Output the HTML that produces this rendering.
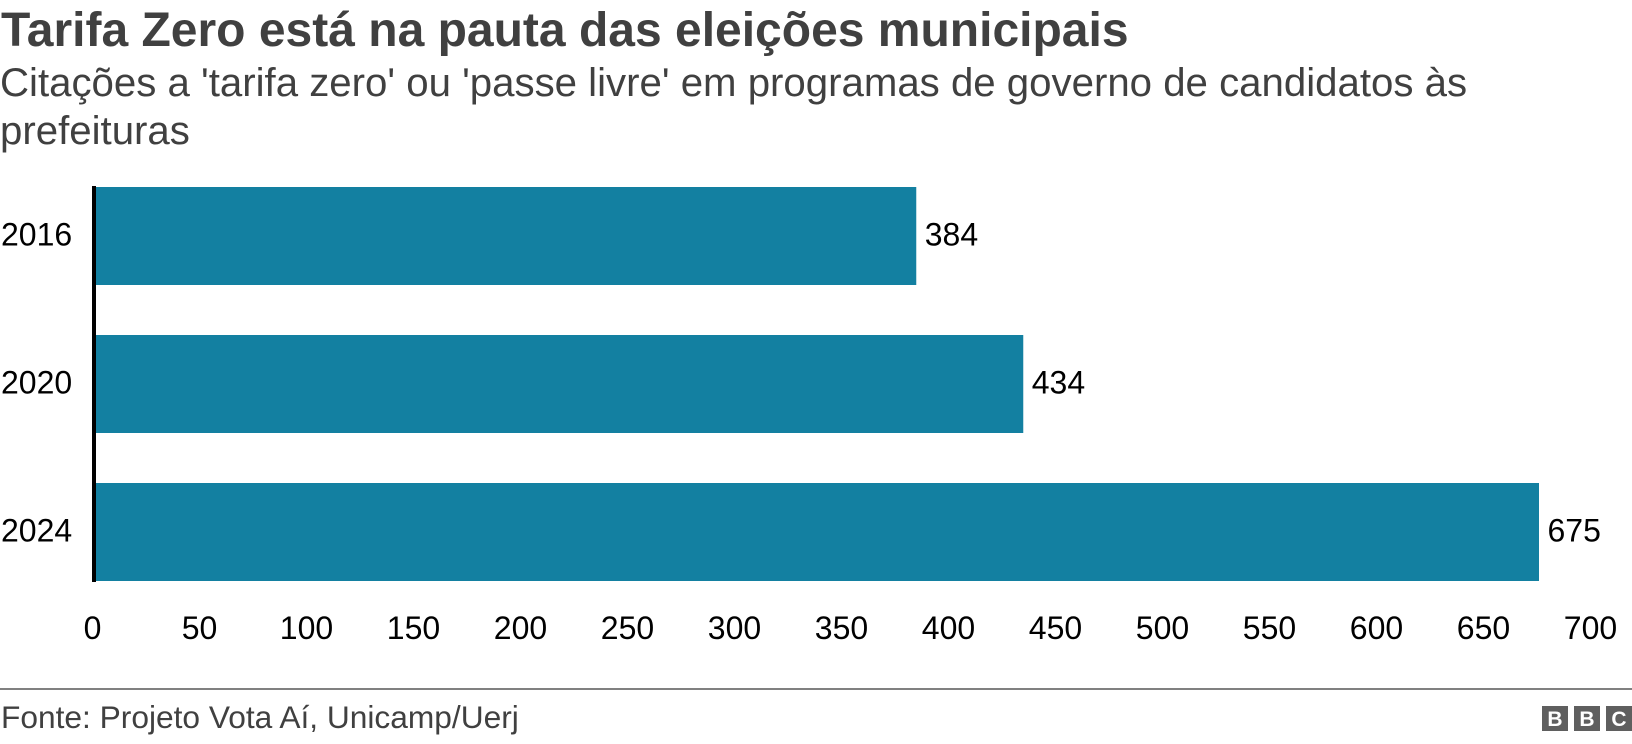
<!DOCTYPE html>
<html lang="pt">
<head>
<meta charset="utf-8">
<title>Tarifa Zero está na pauta das eleições municipais</title>
<style>
html,body{margin:0;padding:0;background:#fff;width:1632px;height:744px;overflow:hidden}
svg{display:block}
text{font-family:"Liberation Sans",sans-serif}
</style>
</head>
<body>
<svg id="chart" xmlns="http://www.w3.org/2000/svg" width="1632" height="744" viewBox="0 0 1632 744">
  <text x="1" y="46" font-size="48" font-weight="700" fill="#404040">Tarifa Zero está na pauta das eleições municipais</text>
  <text x="0" y="96" font-size="40.2" fill="#404040">Citações a 'tarifa zero' ou 'passe livre' em programas de governo de candidatos às</text>
  <text x="0" y="144" font-size="40.2" fill="#404040">prefeituras</text>
  <g id="bars"></g>
  <g id="y-labels"></g>
  <g id="x-labels"></g>
  <g id="values"></g>
  <rect x="92" y="186" width="4" height="396" fill="#000"></rect>
  <rect x="0" y="688" width="1632" height="2" fill="#808080"></rect>
  <text x="1" y="728" font-size="31.7" fill="#404040">Fonte: Projeto Vota Aí, Unicamp/Uerj</text>
  <g>
    <rect x="1542" y="706" width="26" height="25" fill="#5f5f5f"></rect>
    <text x="1555" y="726" font-size="21" font-weight="700" fill="#fff" text-anchor="middle">B</text>
    <rect x="1574" y="706" width="26" height="25" fill="#5f5f5f"></rect>
    <text x="1587" y="726" font-size="21" font-weight="700" fill="#fff" text-anchor="middle">B</text>
    <rect x="1606" y="706" width="26" height="25" fill="#5f5f5f"></rect>
    <text x="1619" y="726" font-size="21" font-weight="700" fill="#fff" text-anchor="middle">C</text>
  </g>
</svg>
<script>
const categories = ['2016', '2020', '2024'];
const citations = [384, 434, 675];
const xTicks = [0, 50, 100, 150, 200, 250, 300, 350, 400, 450, 500, 550, 600, 650, 700];

const NS = 'http://www.w3.org/2000/svg';
const plotLeft = 94.5;
const pxPerUnit = 2.14;
const plotTop = 187;
const bandStep = 148;
const barHeight = 98;

function xScale(v) { return plotLeft + v * pxPerUnit; }
function yBand(i) { return plotTop + i * bandStep; }

function makeText(content, x, y, anchor) {
  const t = document.createElementNS(NS, 'text');
  t.setAttribute('x', x);
  t.setAttribute('y', y);
  t.setAttribute('font-size', 32);
  t.setAttribute('fill', '#000');
  t.setAttribute('text-anchor', anchor);
  t.textContent = content;
  return t;
}

const barsG = document.getElementById('bars');
const yG = document.getElementById('y-labels');
const valG = document.getElementById('values');
const xG = document.getElementById('x-labels');

categories.forEach(function (cat, i) {
  const r = document.createElementNS(NS, 'rect');
  
  
  r.setAttribute('x', xScale(0));
  r.setAttribute('y', yBand(i));
  r.setAttribute('width', xScale(citations[i]) - xScale(0));
  r.setAttribute('height', barHeight);
  r.setAttribute('fill', '#1380a1');
  barsG.appendChild(r);

  const c = yBand(i) + barHeight / 2 + 9.5;
  const yl = makeText(cat, 1, c, 'start');
  
  
  yG.appendChild(yl);

  const vl = makeText(String(citations[i]), xScale(citations[i]) + 8.5, c, 'start');
  
  
  valG.appendChild(vl);
});

xTicks.forEach(function (tick) {
  const tl = makeText(String(tick), xScale(tick) - 2, 639, 'middle');
  
  
  xG.appendChild(tl);
});
</script>
</body>
</html>
